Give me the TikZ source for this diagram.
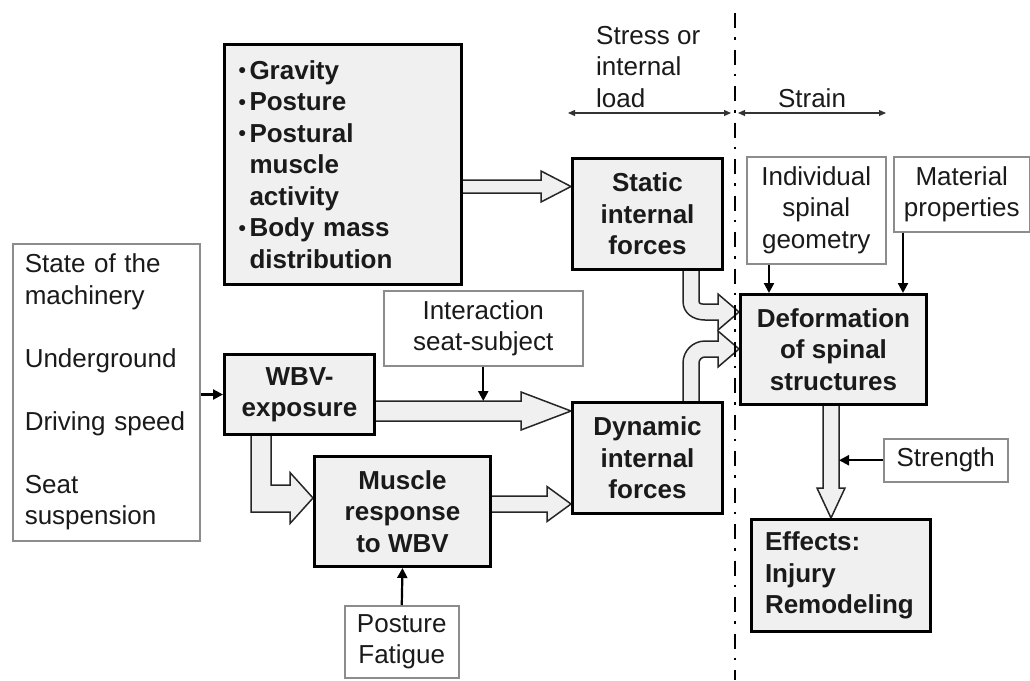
\documentclass[tikz,border=0pt]{standalone}
\usepackage{fontspec}
\setmainfont{Liberation Sans}
\usetikzlibrary{arrows.meta,calc}
\pgfdeclarelayer{back}
\pgfdeclarelayer{flow}
\pgfsetlayers{back,flow,main}
\definecolor{boxfill}{HTML}{F0F0F0}
\definecolor{rule}{HTML}{8C8C8C}
\definecolor{ink}{HTML}{1A1A1A}
\newcommand\diagfont{\fontsize{26}{31.5}\selectfont}
% small list bullet and matching indent for wrapped lines
\newcommand\listbullet{\makebox[11pt][l]{\raisebox{1.5pt}{\fontsize{21}{21}\selectfont •}}}
\newcommand\listindent{\hspace*{11pt}}
% horizontal hollow block arrow: start, tip, shaft half width, head half width, head length
\newcommand\hblock[5]{%
  \filldraw[block] ($(#1)+(0,-#3)$) -- ($(#2)+(-#5,-#3)$) -- ($(#2)+(-#5,-#4)$) -- (#2)
    -- ($(#2)+(-#5,#4)$) -- ($(#2)+(-#5,#3)$) -- ($(#1)+(0,#3)$);}

\begin{document}
\begin{tikzpicture}[x=1pt,y=-1pt,
  box/.style={inner sep=0pt, anchor=north west, align=center, font=\diagfont, text=ink},
  heavy/.style={box, draw=black, line width=3pt, fill=boxfill, font=\diagfont\bfseries},
  light/.style={box, draw=rule, line width=1.5pt, fill=white},
  block/.style={fill=boxfill, draw=black!85, line width=1.5pt, line join=miter},
  feed/.style={draw=black, line width=2.2pt, -{Triangle[length=10pt,width=10pt]}},
  span/.style={draw=black!80, line width=1.2pt, {Triangle[length=7pt,width=6pt]}-{Triangle[length=7pt,width=6pt]}},
  divider/.style={draw=black, line width=2.8pt, dash pattern=on 15pt off 9pt on 2.5pt off 10pt, dash phase=26.5pt},
]
\begin{pgfonlayer}{back}
  \fill[white] (0,0) rectangle (1030,680);
\end{pgfonlayer}
\useasboundingbox (0,0) rectangle (1030,680);

% boundary between stress and strain
\draw[divider] (735,3) -- (735,680);

% column headings
\node[box, align=left, anchor=west] (stress) at (596,67) {Stress or\\internal\\load};
\node[box, anchor=center] (strain) at (812,98) {Strain};
\coordinate (sl) at (568,113);
\coordinate (sr) at (731,113);
\coordinate (tl) at (738,113);
\coordinate (tr) at (886,113);
\draw[span] (sl) -- (sr);
\draw[span] (tl) -- (tr);

% factor boxes
\node[heavy, align=left, text width=209pt, inner xsep=14pt, minimum height=240pt] (forces) at (223,43)
  {\listbullet Gravity\\\listbullet Posture\\\listbullet Postural\\\listindent muscle\\\listindent activity\\\listbullet Body mass\\\listindent distribution};
\node[light, align=left, text width=163pt, inner xsep=12pt, minimum height=297pt] (state) at (12,243)
  {State of the\\machinery\\[31.5pt]Underground\\[31.5pt]Driving speed\\[31.5pt]Seat\\suspension};
\node[heavy, minimum width=150pt, minimum height=80pt] (wbv) at (223,353) {WBV-\\exposure};
\node[light, minimum width=199pt, minimum height=75pt] (inter) at (383,290) {Interaction\\seat-subject};
\node[heavy, minimum width=176pt, minimum height=110pt] (muscle) at (313,455) {Muscle\\response\\to WBV};
\node[light, minimum width=114pt, minimum height=72pt] (pf) at (344,605) {Posture\\Fatigue};
\node[heavy, minimum width=150pt, minimum height=111pt] (static) at (571,157) {Static\\internal\\forces};
\node[heavy, minimum width=150pt, minimum height=111pt] (dynamic) at (571,401) {Dynamic\\internal\\forces};
\node[light, minimum width=139pt, minimum height=107pt] (geom) at (746,156) {Individual\\spinal\\geometry};
\node[light, minimum width=136pt, minimum height=75pt] (mat) at (893,156) {Material\\properties};
\node[heavy, minimum width=186pt, minimum height=110pt] (deform) at (739,293) {Deformation\\of spinal\\structures};
\node[light, minimum width=124pt, minimum height=43pt] (strength) at (883,438) {Strength};
\node[heavy, align=left, text width=152pt, inner xsep=13.5pt, minimum height=112pt] (effects) at (750,518)
  {Effects:\\Injury\\Remodeling};

% hollow flow arrows, kept beneath the boxes
\begin{pgfonlayer}{flow}
  \hblock{forces.east |- 0,186.5}{static.west |- 0,186.5}{6.5}{15.5}{30}
  \hblock{wbv.east |- 0,411}{dynamic.west |- 0,411}{10}{19}{50}
  \hblock{muscle.east |- 0,504}{dynamic.west |- 0,504}{8}{17.5}{24}
  % WBV exposure bending down into the muscle response
  \coordinate (bt) at (muscle.west |- 0,498);
  \filldraw[block] ($(wbv.south west)+(28,0)$) -- ($(bt)+(-62,14)$) -- ($(bt)+(-23,14)$)
    -- ($(bt)+(-23,25.5)$) -- (bt) -- ($(bt)+(-23,-25.5)$) -- ($(bt)+(-23,-13)$)
    -- ($(bt)+(-42,-13)$) -- ($(wbv.south west)+(48,0)$);
  % static forces curving into the deformation box
  \coordinate (c1) at (deform.west |- 0,312);
  \filldraw[block] ($(static.south west)+(112,0)$) -- ($(static.south west)+(112,30)$)
    .. controls ($(static.south west)+(112,42.15)$) and ($(c1)+(-46.15,8)$) .. ($(c1)+(-34,8)$)
    -- ($(c1)+(-21,8)$) -- ($(c1)+(-21,18)$) -- (c1) -- ($(c1)+(-21,-18)$) -- ($(c1)+(-21,-8)$)
    -- ($(c1)+(-34,-8)$)
    .. controls ($(c1)+(-37.31,-8)$) and ($(static.south west)+(128,33.31)$) .. ($(static.south west)+(128,30)$)
    -- ($(static.south west)+(128,0)$);
  % dynamic forces curving into the deformation box
  \coordinate (c2) at (deform.west |- 0,349);
  \filldraw[block] ($(dynamic.north west)+(112,0)$) -- ($(dynamic.north west)+(112,-38)$)
    .. controls ($(dynamic.north west)+(112,-50.15)$) and ($(c2)+(-46.15,-8)$) .. ($(c2)+(-34,-8)$)
    -- ($(c2)+(-21,-8)$) -- ($(c2)+(-21,-18)$) -- (c2) -- ($(c2)+(-21,18)$) -- ($(c2)+(-21,8)$)
    -- ($(c2)+(-34,8)$)
    .. controls ($(c2)+(-37.31,8)$) and ($(dynamic.north west)+(128,-41.31)$) .. ($(dynamic.north west)+(128,-38)$)
    -- ($(dynamic.north west)+(128,0)$);
  % deformation leading down to the effects
  \coordinate (c3) at ($(effects.north west)+(81,0)$);
  \filldraw[block] ($(deform.south west)+(84,0)$) -- ($(c3)+(-8,-30)$) -- ($(c3)+(-14,-30)$) -- (c3)
    -- ($(c3)+(14,-30)$) -- ($(c3)+(8,-30)$) -- ($(deform.south west)+(100,0)$);
\end{pgfonlayer}

% thin influence arrows
\coordinate (shafttop) at ($(dynamic.west |- 0,411)+(0,-10)$);
\coordinate (shaftright) at ($(c3)+(8,0)$);
\coordinate (g1) at ($(geom.south west)+(23,0)$);
\coordinate (m1) at ($(mat.south west)+(10,0)$);
\draw[feed] (state.east |- wbv.west) -- (wbv.west);
\draw[feed] (inter.south) -- (inter.south |- shafttop);
\draw[feed] (pf.north) -- (muscle.south);
\draw[feed] (g1) -- (g1 |- deform.north);
\draw[feed] (m1) -- (m1 |- deform.north);
\draw[feed] (strength.west) -- (strength.west -| shaftright);
\end{tikzpicture}
\end{document}
